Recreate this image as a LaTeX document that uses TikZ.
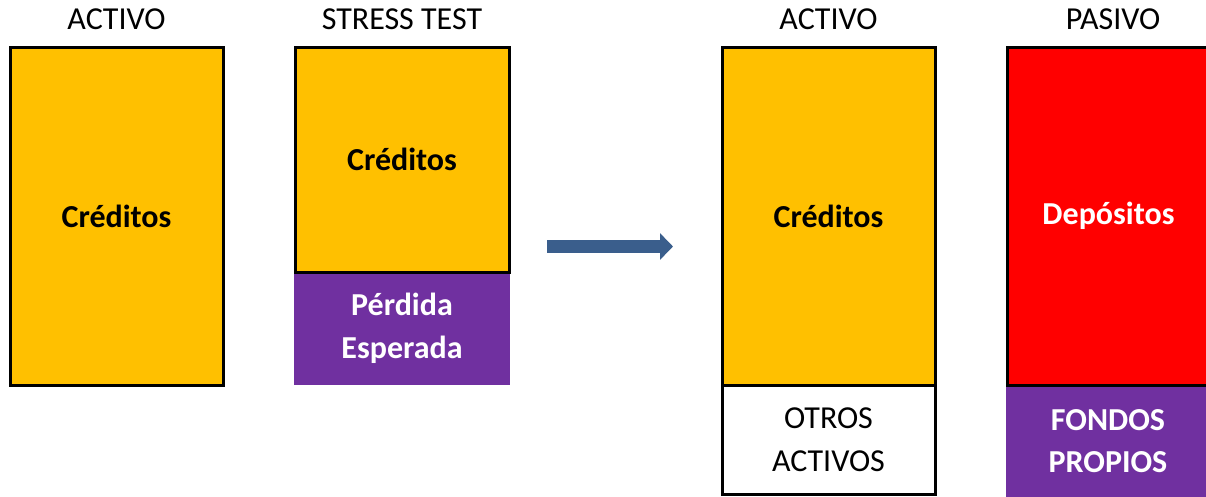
\documentclass[tikz,border=0pt]{standalone}
\usepackage{fontspec}
\setmainfont{Carlito}
\usetikzlibrary{arrows.meta}
\definecolor{credito}{HTML}{FFC000}
\definecolor{perdida}{HTML}{7030A0}
\definecolor{deposito}{HTML}{FF0000}
\definecolor{flecha}{HTML}{3A5E8C}
\begin{document}
\begin{tikzpicture}[x=0.75pt,y=-0.75pt,
  titulo/.style={anchor=base,font=\fontsize{24}{32}\selectfont},
  caja/.style={draw=black,line width=2.25pt,inner sep=0pt,align=center,font=\fontsize{24}{32}\selectfont\bfseries},
  plana/.style={inner sep=0pt,align=center,text=white,font=\fontsize{24}{32}\selectfont\bfseries}]
\useasboundingbox (0,0) rectangle (1206,496);
% balance inicial
\node[titulo] (tA) at (116.5,29) {ACTIVO};
\node[caja,fill=credito,minimum width=159.75pt,minimum height=253.5pt] (credA) at (116.5,216) {Créditos};
% stress test
\node[titulo] (tS) at (402,29) {STRESS TEST};
\node[plana,fill=perdida,minimum width=162pt,minimum height=84.75pt] (perd) at (402,328.5) {Pérdida\\Esperada};
\node[caja,fill=credito,minimum width=160.5pt,minimum height=168.75pt] (credS) at (402,159.5) {Créditos};
% flecha
\coordinate (ini) at (547,246.5);
\coordinate (fin) at (673,246.5);
\draw[flecha,line width=9.75pt,-{Triangle[width=19.5pt,length=9.75pt]}] (ini) -- (fin);
% balance final
\node[titulo] (tB) at (828.5,29) {ACTIVO};
\node[caja,fill=credito,minimum width=159.75pt,minimum height=253.5pt] (credB) at (828.5,216) {Créditos};
\node[caja,fill=white,font=\fontsize{24}{32}\selectfont,minimum width=159.75pt,minimum height=81.75pt] (otros) at (828.5,439.5) {OTROS\\ACTIVOS};
\node[titulo] (tP) at (1113,29) {PASIVO};
\node[plana,fill=perdida,minimum width=153pt,minimum height=84pt] (fondos) at (1108,441) {FONDOS\\PROPIOS};
\node[caja,fill=deposito,text=white,minimum width=152.25pt,minimum height=253.5pt] (dep) at (1108.5,216) {Depósitos};
\end{tikzpicture}
\end{document}
